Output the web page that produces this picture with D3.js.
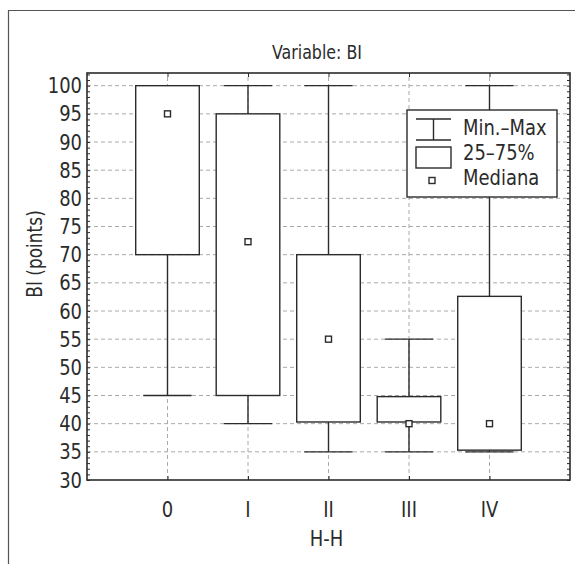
<!DOCTYPE html>
<html lang="en">
<head>
    <meta charset="UTF-8">
    <title>Box plot BI</title>
    <script src="https://d3js.org/d3.v7.min.js"></script>
    <style>
        body{
            margin: 0;
            background: #fff;
        }
        svg{
            display: block;
            font-family: "DejaVu Sans Condensed", "Liberation Sans", sans-serif;
        }
        .grid line
        {
            stroke: #aaa;
            stroke-dasharray: 4,3;
        }
    </style>
</head>
<body>
<svg width="575" height="564"></svg>
<script>
    // data
    let categories = ["0", "I", "II", "III", "IV"];
    let minValues = [45, 40, 35, 35, 35];
    let q1Values = [70, 45, 40.3, 40.3, 35.3];
    let medianValues = [95, 72.3, 55, 40, 40];
    let q3Values = [100, 95, 70, 44.8, 62.6];
    let maxValues = [100, 100, 100, 55, 100];
    let yTicks = [30, 35, 40, 45, 50, 55, 60, 65, 70, 75, 80, 85, 90, 95, 100];
    let legendLabels = ["Min.\u2013Max", "25\u201375%", "Mediana"];

    let svg = d3.select('svg')
    let margins = {left:87, right:5, top:73, bottom:84};
    let W = 575, H = 564;
    let ink = "#2b2b2b";

    // the original face is a little narrower than DejaVu, squeeze it slightly
    function label(parent, x, y, txt, size, sx, anchor, rot){
        return parent.append("text")
            .attr("transform", "translate(" + x + "," + y + ")" + (rot ? " rotate(" + rot + ")" : "") + " scale(" + sx + ",1)")
            .attr("text-anchor", anchor || "middle")
            .attr("font-size", size).attr("fill", ink)
            .text(txt);
    }

    // outer frame (cut off at right and bottom)
    svg.append("path")
        .attr("d", "M8.5,600 V10.5 H600")
        .attr("fill", "none").attr("stroke", "#555").attr("stroke-width", 1.2);

    let xScale = d3.scaleLinear().domain([-1, categories.length]).range([margins.left, W - margins.right]);
    let yScale = d3.scaleLinear().domain([30, 102.25]).range([H - margins.bottom, margins.top]);
    let x0 = xScale.range()[0], x1 = xScale.range()[1];
    let y0 = yScale.range()[0], y1 = yScale.range()[1];
    let step = xScale(1) - xScale(0);

    // grid
    let grid = svg.append("g").attr("class", "grid");
    grid.selectAll(".hg").data(yTicks.filter(function (d){return d > 30})).enter().append("line")
        .attr("x1", x0).attr("x2", x1)
        .attr("y1", function (d){return yScale(d)}).attr("y2", function (d){return yScale(d)});
    grid.selectAll(".vg").data(categories).enter().append("line")
        .attr("x1", function (d,i){return xScale(i)}).attr("x2", function (d,i){return xScale(i)})
        .attr("y1", y0).attr("y2", y1);

    // axes (ticks pointing inward)
    let minorTicks = d3.range(30, 103, 1);
    svg.append("g").attr("transform", "translate(" + x0 + ",0)")
        .call(d3.axisRight(yScale).tickValues(minorTicks).tickSize(3).tickFormat(""))
        .call(function (g){g.select(".domain").remove(); g.selectAll("line").attr("stroke", ink)});
    svg.append("g").attr("transform", "translate(" + x1 + ",0)")
        .call(d3.axisLeft(yScale).tickValues(minorTicks).tickSize(3).tickFormat(""))
        .call(function (g){g.select(".domain").remove(); g.selectAll("line").attr("stroke", ink)});
    let yLab = svg.append("g");
    yTicks.forEach(function (t){
        label(yLab, x0 - 5, yScale(t) + 7.5, t, 21, 0.95, "end");
    });

    svg.append("g").attr("transform", "translate(0," + y0 + ")")
        .call(d3.axisTop(xScale).tickValues(d3.range(categories.length)).tickSize(4).tickFormat(""))
        .call(function (g){g.select(".domain").remove(); g.selectAll("line").attr("stroke", ink)});
    svg.append("g").attr("transform", "translate(0," + y1 + ")")
        .call(d3.axisBottom(xScale).tickValues(d3.range(categories.length)).tickSize(4).tickFormat(""))
        .call(function (g){g.select(".domain").remove(); g.selectAll("line").attr("stroke", ink)});
    let xLab = svg.append("g");
    categories.forEach(function (c, i){
        label(xLab, xScale(i), y0 + 37, c, 21, 0.95);
    });

    // plot frame
    svg.append("rect").attr("x", x0).attr("y", y1).attr("width", x1 - x0).attr("height", y0 - y1)
        .attr("fill", "none").attr("stroke", ink).attr("stroke-width", 1.6);

    // boxes
    let boxW = step * 0.79, capW = step * 0.6;
    let boxes = svg.selectAll(".box").data(categories).enter().append("g");
    boxes.append("line")
        .attr("x1", function (d,i){return xScale(i)}).attr("x2", function (d,i){return xScale(i)})
        .attr("y1", function (d,i){return yScale(minValues[i])}).attr("y2", function (d,i){return yScale(maxValues[i])})
        .attr("stroke", ink).attr("stroke-width", 1.4);
    [minValues, maxValues].forEach(function (arr){
        boxes.append("line")
            .attr("x1", function (d,i){return xScale(i) - capW/2}).attr("x2", function (d,i){return xScale(i) + capW/2})
            .attr("y1", function (d,i){return yScale(arr[i])}).attr("y2", function (d,i){return yScale(arr[i])})
            .attr("stroke", ink).attr("stroke-width", 1.4);
    });
    boxes.append("rect")
        .attr("x", function (d,i){return xScale(i) - boxW/2}).attr("width", boxW)
        .attr("y", function (d,i){return yScale(q3Values[i])})
        .attr("height", function (d,i){return yScale(q1Values[i]) - yScale(q3Values[i])})
        .attr("fill", "#fff").attr("stroke", ink).attr("stroke-width", 1.4);
    boxes.append("rect")
        .attr("x", function (d,i){return xScale(i) - 3}).attr("y", function (d,i){return yScale(medianValues[i]) - 3})
        .attr("width", 6).attr("height", 6)
        .attr("fill", "#fff").attr("stroke", ink).attr("stroke-width", 1.4);

    // titles
    label(svg, 317, 59, "Variable: BI", 20, 0.88);
    label(svg, (x0 + x1)/2 - 2, y0 + 66, "H-H", 21, 0.95);
    label(svg, 42, 254, "BI (points)", 21, 0.9, "middle", -90);

    // legend
    let lg = svg.append("g").attr("transform", "translate(407,110)");
    lg.append("rect").attr("width", 150).attr("height", 87).attr("fill", "#fff").attr("stroke", ink).attr("stroke-width", 1.4);
    lg.append("path").attr("d", "M9,9 H44 M26.5,9 V30 M9,30 H44").attr("stroke", ink).attr("stroke-width", 1.4).attr("fill", "none");
    lg.append("rect").attr("x", 9).attr("y", 37).attr("width", 35).attr("height", 21).attr("fill", "#fff").attr("stroke", ink).attr("stroke-width", 1.4);
    lg.append("rect").attr("x", 22).attr("y", 67.5).attr("width", 6).attr("height", 6).attr("fill", "#fff").attr("stroke", ink).attr("stroke-width", 1.4);
    legendLabels.forEach(function (t, i){
        label(lg, 56, 25 + i*25, t, 21, 0.95, "start");
    });
</script>
</body>
</html>
